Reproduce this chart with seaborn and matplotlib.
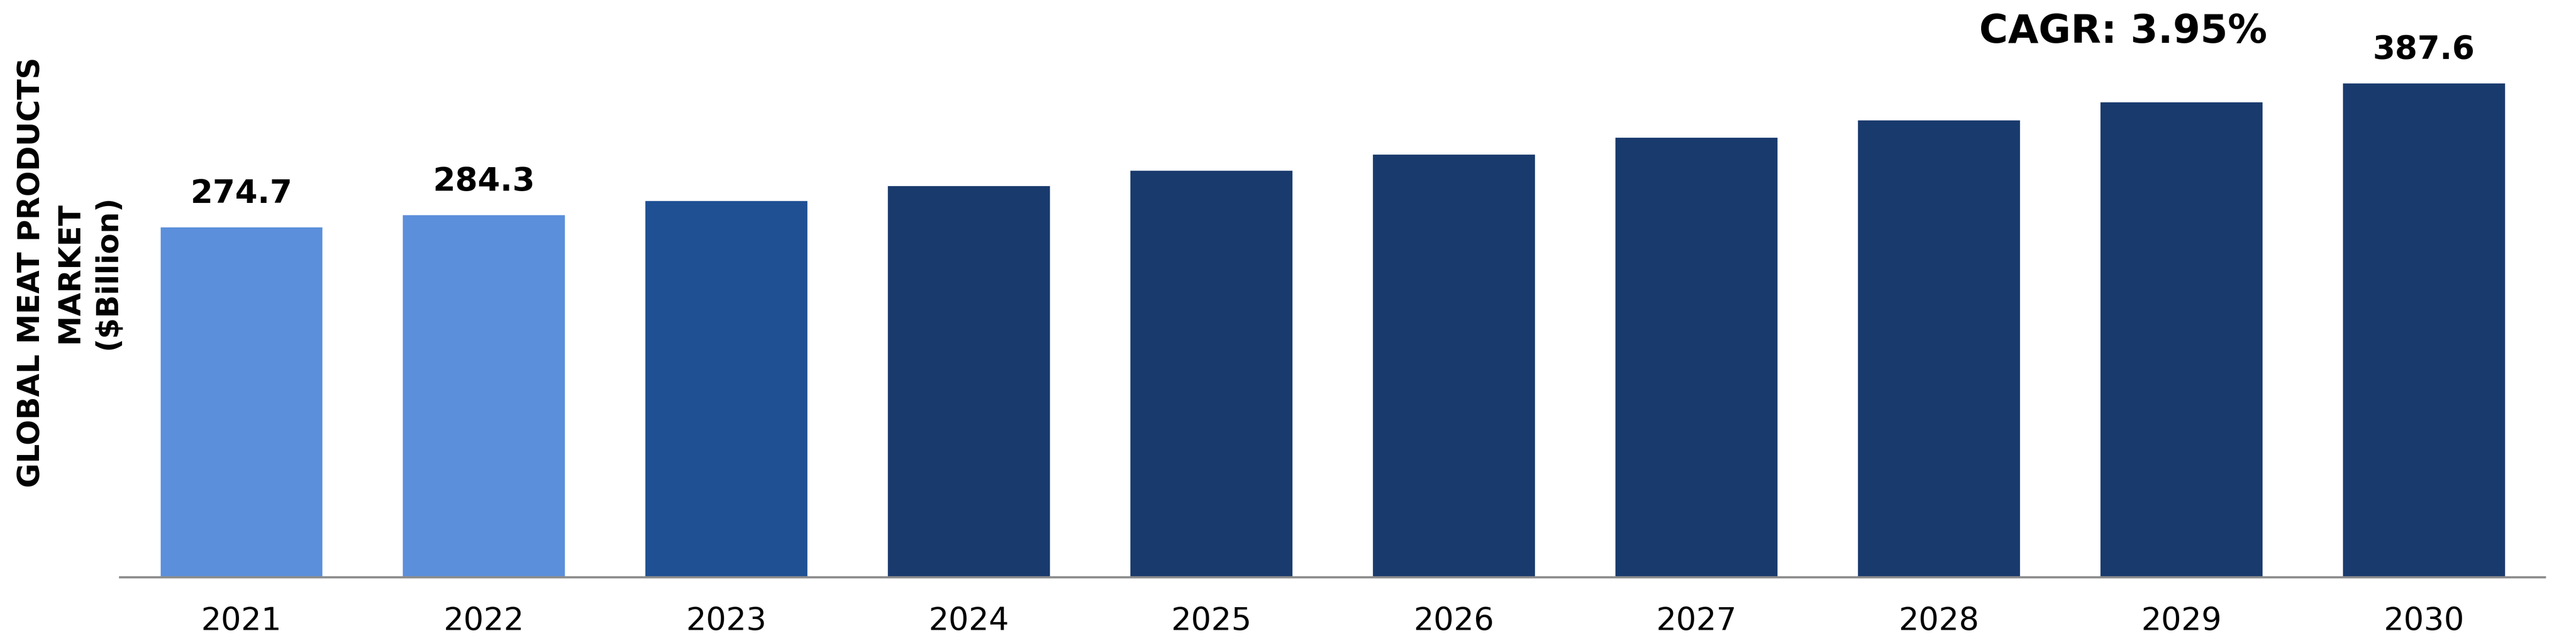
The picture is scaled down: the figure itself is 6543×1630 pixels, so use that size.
import matplotlib
matplotlib.use("Agg")
import matplotlib.pyplot as plt
import seaborn as sns
import pandas as pd

# data
years = ["2021", "2022", "2023", "2024", "2025", "2026", "2027", "2028", "2029", "2030"]
market_size = [274.7, 284.3, 295.5, 307.2, 319.3, 331.9, 345.0, 358.6, 372.8, 387.6]
bar_colors = ["#5B8FDB", "#5B8FDB", "#1F5093", "#193A6D", "#193A6D",
              "#193A6D", "#193A6D", "#193A6D", "#193A6D", "#193A6D"]
labelled_years = ["2021", "2022", "2030"]
cagr_text = "CAGR: 3.95%"
y_title = "GLOBAL MEAT PRODUCTS\nMARKET\n($Billion)"

df = pd.DataFrame({"year": years, "value": market_size})

sns.set_style("white")
plt.rcParams["font.family"] = ["DejaVu Sans"]

fig = plt.figure(figsize=(65.43, 16.31), dpi=100)
ax = fig.add_axes([0.0466, 0.0993, 0.9414, 0.9007])

sns.barplot(data=df, x="year", y="value", hue="year", palette=bar_colors,
            width=0.67, saturation=1, legend=False, ax=ax)

ax.set_xlim(-0.5, 9.5)
ax.set_ylim(0, 453)

# value labels on a few bars
for i, (yr, v) in enumerate(zip(years, market_size)):
    if yr in labelled_years:
        ax.text(i, v + 26, f"{v:.1f}", ha="center", va="center",
                fontsize=59, fontweight="bold", color="black")

ax.text(7.76, 428, cagr_text, ha="center", va="center",
        fontsize=72, fontweight="bold", color="black")

sns.despine(ax=ax, left=True, top=True, right=True)
ax.spines["bottom"].set_color("#8C8C8C")
ax.spines["bottom"].set_linewidth(4)
ax.set_yticks([])
ax.set_xlabel("")
ax.set_ylabel("")
ax.tick_params(axis="x", length=0, pad=52, labelsize=58, labelcolor="black")

fig.text(0.027, 0.575, y_title, rotation=90, ha="center", va="center",
         multialignment="center", fontsize=55, fontweight="bold",
         linespacing=1.4, color="black")

fig.savefig("out.png", dpi=100, facecolor="white")
